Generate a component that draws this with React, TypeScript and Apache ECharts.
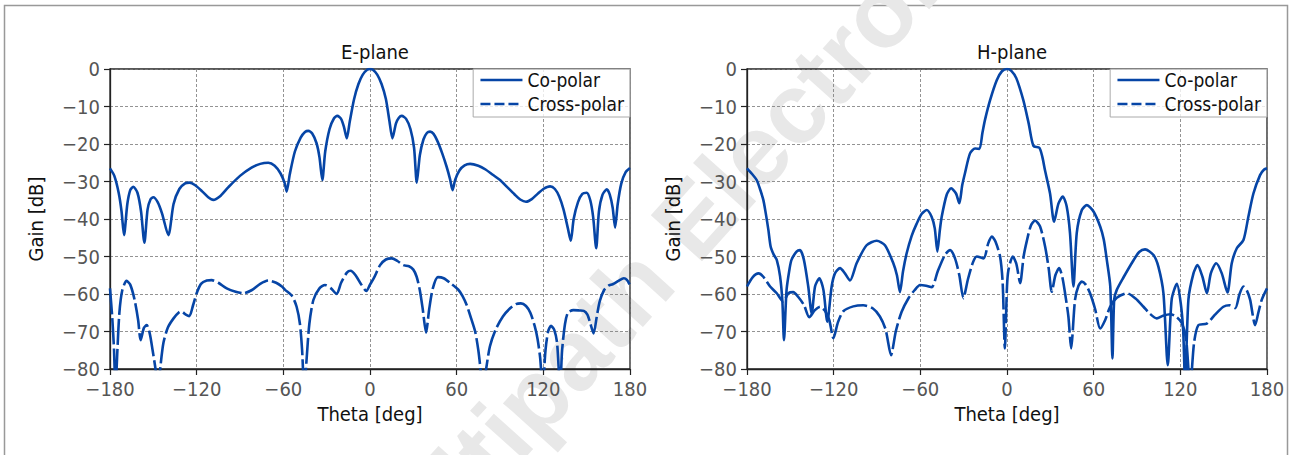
import React, { useEffect, useRef } from "react";
import * as echarts from "echarts";

// theta [deg], gain [dB]
const thetaTicks = [-180, -120, -60, 0, 60, 120, 180];
const gainTicks = [-80, -70, -60, -50, -40, -30, -20, -10, 0];
const seriesNames = ["Co-polar", "Cross-polar"];
const panelTitles = ["E-plane", "H-plane"];

const eCoPolar: [number, number][] = [
  [-180, -26.5], [-177, -28.5], [-174, -33], [-172, -38], [-170.3, -44.3], [-168, -36], [-166, -32.3], [-163.9, -31.4],
  [-161, -33], [-158.5, -38], [-156.2, -46.3], [-154, -37.5], [-152, -34.8], [-150, -34.2], [-147, -35.5], [-144, -38.5],
  [-139.6, -44.3], [-136, -36], [-132, -32], [-128, -30.5], [-125, -30.3], [-121, -31], [-116, -32.7], [-112, -34.2],
  [-108.5, -34.9], [-104, -34], [-98, -31.5], [-90, -28.5], [-82, -26.3], [-76, -25.3], [-70.4, -25], [-66, -25.8],
  [-62, -27.8], [-59, -30.5], [-57.7, -32.7], [-55.5, -28], [-52, -22], [-48, -18.3], [-45, -16.8], [-42.7, -16.5],
  [-40, -17.2], [-37, -19.8], [-35, -23.5], [-33, -29.6], [-31, -22], [-28, -16], [-25, -13.2], [-22.6, -12.5],
  [-20, -13.3], [-18, -15.5], [-16.1, -18.5], [-14, -14], [-11, -8], [-8, -4], [-5, -1.5], [-2, -0.2], [0, 0],
  [2, -0.2], [5, -1.5], [8, -4], [11, -8], [13.5, -14], [15.5, -18.5], [18, -14.5], [20, -13], [22, -12.5],
  [25, -13.3], [28, -16], [30.5, -21], [32.4, -30.3], [34.5, -23], [37, -18.8], [39.5, -17], [41.6, -16.7],
  [44, -17.3], [47, -19.5], [50, -22.5], [53, -26], [55.5, -29.5], [57.1, -32.3], [59, -29.5], [62, -27],
  [65.5, -25.7], [69.3, -25.3], [75, -25.8], [80, -26.8], [85, -28.2], [90, -29.6], [95, -31.5], [100, -33.4],
  [104, -34.8], [108, -35.4], [112, -34.7], [116, -33.3], [120, -32], [124.7, -31.3], [128, -32], [131, -34],
  [134, -37.5], [137, -42.5], [139, -45.8], [141, -40], [144, -35.5], [147, -33.3], [150, -33], [152.5, -35],
  [154.5, -39.5], [156.6, -47.8], [158.5, -38], [161, -33.5], [163.9, -32.1], [166, -33.5], [168, -37],
  [169.7, -42.3], [171.5, -36], [174, -30.5], [177, -27.5], [180, -26.4],
];

const eCrossPolar: [number, number][] = [
  [-180, -58.5], [-178.5, -66], [-177.2, -75], [-176.2, -86], [-175, -76], [-173.5, -65], [-171.5, -59],
  [-168.5, -56.5], [-166, -57.5], [-163, -61.5], [-160.5, -67], [-158.8, -72.3], [-156.5, -69], [-154.6, -68.3],
  [-152.5, -70.5], [-150.5, -75], [-148.5, -80], [-146.8, -86], [-145, -79], [-143, -73], [-140, -69], [-136, -66.5],
  [-132, -64.8], [-130.4, -64.7], [-127.5, -65.5], [-125.1, -65.9], [-122.5, -63], [-120, -59.8], [-117, -57.3],
  [-113, -56.4], [-109.6, -56.3], [-105, -57], [-99.2, -58.5], [-93, -59.4], [-87.7, -59.8], [-82, -59],
  [-76, -57.3], [-70.4, -56.4], [-65, -57], [-61, -58], [-58.8, -58.9], [-54, -60.5], [-50.8, -63.4], [-48.5, -68],
  [-47, -75], [-45.5, -86], [-44, -78], [-42, -68], [-39.2, -61.6], [-35, -58.5], [-31.1, -57.6], [-27, -58.5],
  [-23.1, -60], [-20, -57], [-16, -54.3], [-13.4, -53.8], [-10, -55], [-6, -57.5], [-2.5, -59.2], [0, -57.5],
  [3, -55.5], [7, -52.3], [11, -50.8], [15.1, -50.5], [19, -51.2], [23, -52.3], [27, -52.6], [30, -53.5],
  [32.3, -55.4], [34.5, -59], [36.5, -64], [38.8, -70.3], [41, -64], [43.5, -58.5], [47, -55.5], [51, -55.8],
  [56, -57.2], [61, -58.8], [64, -60.5], [67, -63], [70, -66.5], [72.8, -70], [75, -75], [76.5, -80], [78, -86],
  [80.4, -80], [83, -74], [87, -69.5], [92, -66], [97, -63.8], [101, -62.7], [104.5, -62.5], [108, -63.2],
  [111, -65], [114, -68.5], [116, -72], [117.8, -77], [119.5, -85], [121.5, -75], [123.3, -70], [125.3, -68.5],
  [127.5, -69.5], [129.5, -73], [131.6, -85], [133, -75], [135, -68], [137, -65], [140.8, -64.3], [145, -64.4],
  [148, -64.5], [150.5, -65.5], [152.5, -67.8], [154.8, -70.5], [157, -66], [159, -62], [162, -59], [165, -57.8],
  [168, -57.4], [172, -56.5], [175.7, -55.8], [178, -56.3], [180, -57.7],
];

const hCoPolar: [number, number][] = [
  [-180, -26.5], [-176.5, -28], [-173.3, -29.6], [-171, -32], [-168.7, -34.9], [-167, -38.5], [-165.2, -42.9],
  [-163.6, -47.4], [-161.5, -49.5], [-159.4, -50.9], [-157.1, -55.3], [-155.5, -62], [-154.4, -72.3],
  [-152.6, -58.9], [-150.5, -53.2], [-149.2, -50.9], [-145.7, -48.7], [-143.3, -48.3], [-140.6, -50.9],
  [-137.6, -58], [-135.2, -65.2], [-132.9, -58], [-129.9, -55.8], [-127.1, -58.9], [-124.4, -67.4],
  [-121.4, -58], [-119.1, -54.5], [-115.6, -53.1], [-112.2, -54.5], [-108.7, -56.4], [-104.1, -51.8],
  [-97.2, -47], [-90.2, -45.8], [-84.5, -47], [-78.7, -51.8], [-76.2, -55], [-74.1, -59.5], [-72, -54],
  [-69.5, -49.2], [-66, -44.5], [-62.6, -41.3], [-59, -38.6], [-55.6, -37.6], [-52.2, -39.4], [-50, -42.5],
  [-48.2, -48.7], [-46.5, -43], [-45.2, -39.4], [-41.8, -33.6], [-38.7, -31.8], [-35.3, -33.2], [-33, -35.8],
  [-31, -31], [-29.1, -27.8], [-25.6, -22.5], [-22.1, -21.2], [-19.1, -21.3], [-17, -17], [-15.2, -13.5],
  [-11.7, -8.3], [-7.1, -3], [-3.5, -0.6], [0, 0], [3, -0.5], [6.5, -2.5], [11.3, -8.3], [15, -14.5],
  [18.3, -20.5], [22.4, -21], [24.5, -23.5], [26.3, -27], [29.8, -33.2], [32.6, -40.7], [35.6, -35.9],
  [38.6, -34], [41.3, -36.6], [43.6, -43.7], [46, -58], [48.3, -43.7], [51.8, -37.6], [55.3, -36.3],
  [59.9, -38], [64.5, -42], [67, -45.5], [69.1, -50.9], [71.5, -58], [73, -77.2], [74.2, -61.5], [76, -58.9],
  [80.6, -55.6], [87.6, -51], [91.5, -48.8], [95.6, -48.1], [101.4, -49.6], [104.8, -52.7], [108.3, -59.8],
  [111.3, -79], [114, -61.5], [117.6, -57.3], [120.3, -62.5], [122, -70], [123.3, -84], [125.6, -61.5],
  [129.1, -54.5], [131.9, -52.3], [135.3, -55.4], [138.4, -59.8], [141.1, -54.5], [144.8, -51.8],
  [148.7, -54.5], [152.6, -59.6], [155.6, -51.8], [159.1, -47.8], [163.7, -45.6], [167.1, -39.4],
  [170.6, -33.2], [175.2, -28.3], [178, -26.8], [180, -26.5],
];

const hCrossPolar: [number, number][] = [
  [-180, -58], [-176, -55.5], [-172, -54.5], [-168.7, -55.4], [-164, -58], [-159.4, -59.8], [-154.9, -62],
  [-151.4, -59.8], [-148, -59.5], [-144.5, -60.8], [-140.5, -63], [-136.9, -66.2], [-133, -64.3],
  [-129.4, -63.4], [-126, -64.5], [-123, -67], [-120.2, -71.8], [-117, -67.5], [-113.3, -64.6], [-106.4, -63.3],
  [-99.5, -63], [-93, -63.8], [-88, -66], [-84, -69.5], [-80.3, -76.3], [-77, -70], [-73, -64.8], [-68, -61],
  [-64, -59], [-60.2, -57.6], [-56, -57.8], [-52.1, -58.2], [-48, -54], [-43, -49.6], [-39.4, -48.3],
  [-36, -50.5], [-33, -55], [-30.2, -61.1], [-27, -56], [-23.5, -51.5], [-20.9, -50], [-16.2, -50.5],
  [-13, -46.5], [-10.5, -44.7], [-8, -46], [-4.8, -50], [-3, -57], [-1.5, -74.5], [0, -58], [1, -53.6],
  [4, -50], [6.5, -52], [9.1, -57.1], [11.5, -50], [13.7, -45.9], [16.5, -41.8], [19.4, -40.4], [22.9, -42],
  [26.4, -47.4], [28.8, -53], [31, -59.4], [33.5, -55], [36.1, -53.1], [38.3, -55.5], [40.2, -59.8],
  [42.5, -66], [44.4, -74.5], [47.1, -61.5], [49.5, -57.8], [51.8, -56.7], [54.5, -57.5], [57.5, -59.8],
  [61, -64], [64.5, -69.2], [67.9, -67], [71.4, -63.4], [76, -61], [83, -59.8], [89, -61.2], [94.5, -63.4],
  [99, -65.3], [103.7, -66.5], [108, -65.8], [113, -65.4], [117, -66], [121, -67.7], [124, -72],
  [126.8, -85], [129.5, -73], [132.5, -68.3], [138.3, -67.9], [144, -65.5], [149.8, -63.4], [154, -63],
  [158, -63.8], [161, -60], [163.7, -58], [166, -59], [168.3, -61.5], [171.8, -68.3], [174, -65],
  [176.4, -61.5], [180, -58.5],
];

const BLUE = "#0645a6";
const FONT = "'Liberation Sans Narrow', 'DejaVu Sans Condensed', 'Roboto Condensed', 'Open Sans Condensed', 'Arial Narrow', sans-serif";

function fmt(v: number): string {
  return v < 0 ? "\u2212" + Math.abs(v) : String(v);
}

export default function App() {
  const ref = useRef<HTMLDivElement>(null);
  useEffect(() => {
    if (!ref.current) return;
    const chart = echarts.init(ref.current, null, { renderer: "svg" });
    const grids = [
      { left: 110, top: 69, width: 520, height: 300 },
      { left: 747, top: 69, width: 520, height: 300 },
    ];
    const xAxes = grids.map((_, i) => ({
      type: "value",
      gridIndex: i,
      min: thetaTicks[0],
      max: thetaTicks[thetaTicks.length - 1],
      interval: thetaTicks[1] - thetaTicks[0],
      name: "Theta [deg]",
      nameLocation: "middle",
      nameGap: 34,
      nameTextStyle: { fontFamily: FONT, fontSize: 20, color: "#111" },
      axisLine: { show: true, onZero: false, lineStyle: { color: "#222", width: 1.3 } },
      axisTick: { show: true, length: 6, lineStyle: { color: "#222", width: 1.2 } },
      axisLabel: { fontFamily: FONT, fontSize: 20, color: "#555", margin: 10, formatter: fmt },
      splitLine: { show: true, lineStyle: { color: "#777", width: 0.8, type: [3, 2] } },
    }));
    const yAxes = grids.map((_, i) => ({
      type: "value",
      gridIndex: i,
      min: gainTicks[0],
      max: gainTicks[gainTicks.length - 1],
      interval: gainTicks[1] - gainTicks[0],
      name: "Gain [dB]",
      nameLocation: "middle",
      nameRotate: 90,
      nameGap: 64,
      nameTextStyle: { fontFamily: FONT, fontSize: 20, color: "#111" },
      axisLine: { show: true, onZero: false, lineStyle: { color: "#222", width: 1.3 } },
      axisTick: { show: true, length: 6, lineStyle: { color: "#222", width: 1.2 } },
      axisLabel: { fontFamily: FONT, fontSize: 20, color: "#555", margin: 10, formatter: fmt },
      splitLine: { show: true, lineStyle: { color: "#777", width: 0.8, type: [3, 2] } },
    }));
    const mk = (name: string, data: [number, number][], idx: number, dashed: boolean) => ({
      type: "line",
      name,
      xAxisIndex: idx,
      yAxisIndex: idx,
      data,
      showSymbol: false,
      symbol: "none",
      smooth: 0.25,
      clip: true,
      lineStyle: { color: BLUE, width: 2.6, type: dashed ? [26, 4] : "solid" },
      itemStyle: { color: BLUE },
    });
    const legendBase = {
      orient: "vertical",
      top: 69,
      itemWidth: 42,
      itemHeight: 20,
      itemGap: 4,
      padding: [1, 6, 3, 6],
      backgroundColor: "rgba(255,255,255,0.8)",
      borderColor: "#aaa",
      borderWidth: 1,
      borderRadius: 0,
      selectedMode: false,
      itemStyle: { opacity: 0 },
      textStyle: { fontFamily: FONT, fontSize: 19, color: "#111", lineHeight: 20 },
      data: [
        { name: seriesNames[0], itemStyle: { opacity: 0 }, lineStyle: { color: BLUE, width: 2.6, type: "solid" } },
        { name: seriesNames[1], itemStyle: { opacity: 0 }, lineStyle: { color: BLUE, width: 2.6, type: [10, 4] } },
      ],
    };
    chart.setOption({
      animation: false,
      backgroundColor: "#fff",
      title: panelTitles.map((t, i) => ({
        text: t,
        left: grids[i].left + grids[i].width / 2,
        top: 37,
        textAlign: "center",
        textStyle: { fontFamily: FONT, fontSize: 20, fontWeight: "normal", color: "#111" },
      })),
      legend: [
        { ...legendBase, right: 1291 - 630 },
        { ...legendBase, right: 1291 - 1267 },
      ],
      grid: grids.map((g) => ({ ...g, show: true, borderColor: "#222", borderWidth: 1.3, backgroundColor: "transparent" })),
      xAxis: xAxes,
      yAxis: yAxes,
      series: [
        mk(seriesNames[0], eCoPolar, 0, false),
        mk(seriesNames[1], eCrossPolar, 0, true),
        mk(seriesNames[0], hCoPolar, 1, false),
        mk(seriesNames[1], hCrossPolar, 1, true),
      ],
      graphic: [
        {
          type: "rect",
          shape: { x: 4.5, y: 5.5, width: 1283, height: 470 },
          style: { fill: "none", stroke: "#999", lineWidth: 1.5 },
          silent: true,
          z: -10,
        },
        {
          type: "text",
          x: 694,
          y: 218,
          rotation: (48 * Math.PI) / 180,
          silent: true,
          z: -5,
          style: {
            text: "Multipath Electronics",
            font: "bold 100px 'Liberation Sans', Arial, sans-serif",
            fill: "#e8e8e8",
            textAlign: "center",
            textVerticalAlign: "middle",
          },
        },
      ],
    });
    return () => chart.dispose();
  }, []);
  return <div ref={ref} style={{ position: "fixed", left: 0, top: 0, width: 1291, height: 455 }} />;
}
